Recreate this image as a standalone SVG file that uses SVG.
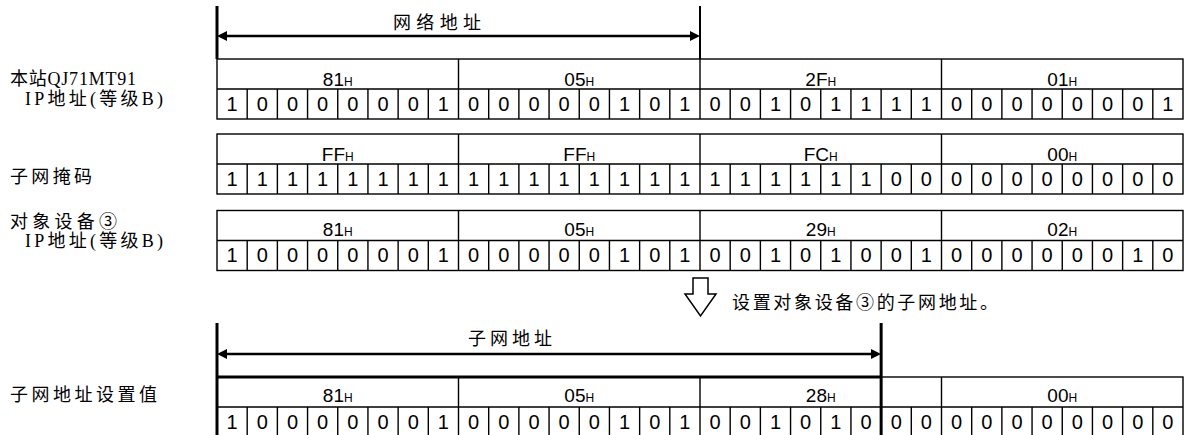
<svg xmlns="http://www.w3.org/2000/svg" xmlns:xlink="http://www.w3.org/1999/xlink" width="1191" height="435" viewBox="0 0 1191 435">
<style>
.lbl{font-family:"Liberation Serif","Noto Sans CJK SC",serif;font-size:18px;fill:#000}
.hex{font-family:"Liberation Sans",Arial,sans-serif;font-size:19px;text-anchor:middle;fill:#000}
.hs{font-size:12px}
.bit{font-family:"Liberation Sans",Arial,sans-serif;font-size:20px;text-anchor:middle;fill:#000}
.gl{fill:none;stroke:#000;stroke-width:1.4}
.thick{stroke:#000;stroke-width:3;fill:none}
.arr{stroke:#000;stroke-width:2.5;fill:none;marker-start:url(#ah);marker-end:url(#ah)}
</style>
<defs>
<marker id="ah" viewBox="0 0 10 10" refX="5" refY="5" markerWidth="10" markerHeight="10" markerUnits="userSpaceOnUse" orient="auto-start-reverse">
<path d="M0,0 L10,5 L0,10 z" fill="#000"/>
</marker>
<g id="grid">
<rect class="gl" x="217" y="0" width="966" height="60"/>
<path class="gl" d="M217,30 H1183 M458.5,0 V60 M700,0 V60 M941.5,0 V60 M247.19,30 V60 M277.38,30 V60 M307.56,30 V60 M337.75,30 V60 M367.94,30 V60 M398.13,30 V60 M428.31,30 V60 M488.69,30 V60 M518.88,30 V60 M549.06,30 V60 M579.25,30 V60 M609.44,30 V60 M639.63,30 V60 M669.81,30 V60 M730.19,30 V60 M760.38,30 V60 M790.56,30 V60 M820.75,30 V60 M850.94,30 V60 M881.13,30 V60 M911.31,30 V60 M971.69,30 V60 M1001.88,30 V60 M1032.06,30 V60 M1062.25,30 V60 M1092.44,30 V60 M1122.63,30 V60 M1152.81,30 V60"/>
</g>
</defs>
<rect width="1191" height="435" fill="#fff"/>

<g id="labels">
<text class="lbl" x="10" y="85" textLength="126">本站QJ71MT91</text>
<text class="lbl" x="25" y="105" textLength="138">IP地址(等级B)</text>
<text class="lbl" x="10" y="183" textLength="82">子网掩码</text>
<text class="lbl" x="10" y="228" textLength="107">对象设备③</text>
<text class="lbl" x="25" y="247" textLength="138">IP地址(等级B)</text>
<text class="lbl" x="10" y="401" textLength="147">子网地址设置值</text>
</g>

<g id="connectors">
<line class="thick" x1="217" y1="6" x2="217" y2="59"/>
<line x1="700" y1="6" x2="700" y2="59" stroke="#000" stroke-width="2"/>
<line class="arr" x1="222" y1="36" x2="695" y2="36"/>
<line class="thick" x1="217" y1="323" x2="217" y2="435"/>
<line class="thick" x1="881.13" y1="323" x2="881.13" y2="435"/>
<line class="arr" x1="222" y1="354" x2="876" y2="354"/>
<polygon points="693,278 708,278 708,294 716,294 700.5,316 685,294 693,294" fill="#fff" stroke="#000" stroke-width="1.5"/>
</g>

<g id="network-label">
<text class="lbl" x="393" y="29" textLength="88">网络地址</text>
</g>
<g id="subnet-label">
<text class="lbl" x="468" y="345" textLength="84">子网地址</text>
</g>
<g id="step-label">
<text class="lbl" x="732" y="309" textLength="266">设置对象设备③的子网地址。</text>
</g>

<g id="row-own-ip">
<use xlink:href="#grid" transform="translate(0,59)"/>
<text class="hex" x="337.75" y="86">81<tspan class="hs">H</tspan></text>
<text class="hex" x="579.25" y="86">05<tspan class="hs">H</tspan></text>
<text class="hex" x="820.75" y="86">2F<tspan class="hs">H</tspan></text>
<text class="hex" x="1062.25" y="86">01<tspan class="hs">H</tspan></text>
<text class="bit" x="232.09" y="111">1</text><text class="bit" x="262.28" y="111">0</text><text class="bit" x="292.47" y="111">0</text><text class="bit" x="322.66" y="111">0</text><text class="bit" x="352.84" y="111">0</text><text class="bit" x="383.03" y="111">0</text><text class="bit" x="413.22" y="111">0</text><text class="bit" x="443.41" y="111">1</text>
<text class="bit" x="473.59" y="111">0</text><text class="bit" x="503.78" y="111">0</text><text class="bit" x="533.97" y="111">0</text><text class="bit" x="564.16" y="111">0</text><text class="bit" x="594.34" y="111">0</text><text class="bit" x="624.53" y="111">1</text><text class="bit" x="654.72" y="111">0</text><text class="bit" x="684.91" y="111">1</text>
<text class="bit" x="715.09" y="111">0</text><text class="bit" x="745.28" y="111">0</text><text class="bit" x="775.47" y="111">1</text><text class="bit" x="805.66" y="111">0</text><text class="bit" x="835.84" y="111">1</text><text class="bit" x="866.03" y="111">1</text><text class="bit" x="896.22" y="111">1</text><text class="bit" x="926.41" y="111">1</text>
<text class="bit" x="956.59" y="111">0</text><text class="bit" x="986.78" y="111">0</text><text class="bit" x="1016.97" y="111">0</text><text class="bit" x="1047.16" y="111">0</text><text class="bit" x="1077.34" y="111">0</text><text class="bit" x="1107.53" y="111">0</text><text class="bit" x="1137.72" y="111">0</text><text class="bit" x="1167.91" y="111">1</text>
</g>

<g id="row-mask">
<use xlink:href="#grid" transform="translate(0,134)"/>
<text class="hex" x="337.75" y="161">FF<tspan class="hs">H</tspan></text>
<text class="hex" x="579.25" y="161">FF<tspan class="hs">H</tspan></text>
<text class="hex" x="820.75" y="161">FC<tspan class="hs">H</tspan></text>
<text class="hex" x="1062.25" y="161">00<tspan class="hs">H</tspan></text>
<text class="bit" x="232.09" y="186">1</text><text class="bit" x="262.28" y="186">1</text><text class="bit" x="292.47" y="186">1</text><text class="bit" x="322.66" y="186">1</text><text class="bit" x="352.84" y="186">1</text><text class="bit" x="383.03" y="186">1</text><text class="bit" x="413.22" y="186">1</text><text class="bit" x="443.41" y="186">1</text>
<text class="bit" x="473.59" y="186">1</text><text class="bit" x="503.78" y="186">1</text><text class="bit" x="533.97" y="186">1</text><text class="bit" x="564.16" y="186">1</text><text class="bit" x="594.34" y="186">1</text><text class="bit" x="624.53" y="186">1</text><text class="bit" x="654.72" y="186">1</text><text class="bit" x="684.91" y="186">1</text>
<text class="bit" x="715.09" y="186">1</text><text class="bit" x="745.28" y="186">1</text><text class="bit" x="775.47" y="186">1</text><text class="bit" x="805.66" y="186">1</text><text class="bit" x="835.84" y="186">1</text><text class="bit" x="866.03" y="186">1</text><text class="bit" x="896.22" y="186">0</text><text class="bit" x="926.41" y="186">0</text>
<text class="bit" x="956.59" y="186">0</text><text class="bit" x="986.78" y="186">0</text><text class="bit" x="1016.97" y="186">0</text><text class="bit" x="1047.16" y="186">0</text><text class="bit" x="1077.34" y="186">0</text><text class="bit" x="1107.53" y="186">0</text><text class="bit" x="1137.72" y="186">0</text><text class="bit" x="1167.91" y="186">0</text>
</g>

<g id="row-target-ip">
<use xlink:href="#grid" transform="translate(0,210.5)"/>
<text class="hex" x="337.75" y="236">81<tspan class="hs">H</tspan></text>
<text class="hex" x="579.25" y="236">05<tspan class="hs">H</tspan></text>
<text class="hex" x="820.75" y="236">29<tspan class="hs">H</tspan></text>
<text class="hex" x="1062.25" y="236">02<tspan class="hs">H</tspan></text>
<text class="bit" x="232.09" y="262">1</text><text class="bit" x="262.28" y="262">0</text><text class="bit" x="292.47" y="262">0</text><text class="bit" x="322.66" y="262">0</text><text class="bit" x="352.84" y="262">0</text><text class="bit" x="383.03" y="262">0</text><text class="bit" x="413.22" y="262">0</text><text class="bit" x="443.41" y="262">1</text>
<text class="bit" x="473.59" y="262">0</text><text class="bit" x="503.78" y="262">0</text><text class="bit" x="533.97" y="262">0</text><text class="bit" x="564.16" y="262">0</text><text class="bit" x="594.34" y="262">0</text><text class="bit" x="624.53" y="262">1</text><text class="bit" x="654.72" y="262">0</text><text class="bit" x="684.91" y="262">1</text>
<text class="bit" x="715.09" y="262">0</text><text class="bit" x="745.28" y="262">0</text><text class="bit" x="775.47" y="262">1</text><text class="bit" x="805.66" y="262">0</text><text class="bit" x="835.84" y="262">1</text><text class="bit" x="866.03" y="262">0</text><text class="bit" x="896.22" y="262">0</text><text class="bit" x="926.41" y="262">1</text>
<text class="bit" x="956.59" y="262">0</text><text class="bit" x="986.78" y="262">0</text><text class="bit" x="1016.97" y="262">0</text><text class="bit" x="1047.16" y="262">0</text><text class="bit" x="1077.34" y="262">0</text><text class="bit" x="1107.53" y="262">0</text><text class="bit" x="1137.72" y="262">1</text><text class="bit" x="1167.91" y="262">0</text>
</g>

<g id="row-subnet-setting">
<use xlink:href="#grid" transform="translate(0,377)"/>
<line class="thick" x1="217" y1="377" x2="881.13" y2="377"/>
<text class="hex" x="337.75" y="402">81<tspan class="hs">H</tspan></text>
<text class="hex" x="579.25" y="402">05<tspan class="hs">H</tspan></text>
<text class="hex" x="820.75" y="402">28<tspan class="hs">H</tspan></text>
<text class="hex" x="1062.25" y="402">00<tspan class="hs">H</tspan></text>
<text class="bit" x="232.09" y="429">1</text><text class="bit" x="262.28" y="429">0</text><text class="bit" x="292.47" y="429">0</text><text class="bit" x="322.66" y="429">0</text><text class="bit" x="352.84" y="429">0</text><text class="bit" x="383.03" y="429">0</text><text class="bit" x="413.22" y="429">0</text><text class="bit" x="443.41" y="429">1</text>
<text class="bit" x="473.59" y="429">0</text><text class="bit" x="503.78" y="429">0</text><text class="bit" x="533.97" y="429">0</text><text class="bit" x="564.16" y="429">0</text><text class="bit" x="594.34" y="429">0</text><text class="bit" x="624.53" y="429">1</text><text class="bit" x="654.72" y="429">0</text><text class="bit" x="684.91" y="429">1</text>
<text class="bit" x="715.09" y="429">0</text><text class="bit" x="745.28" y="429">0</text><text class="bit" x="775.47" y="429">1</text><text class="bit" x="805.66" y="429">0</text><text class="bit" x="835.84" y="429">1</text><text class="bit" x="866.03" y="429">0</text><text class="bit" x="896.22" y="429">0</text><text class="bit" x="926.41" y="429">0</text>
<text class="bit" x="956.59" y="429">0</text><text class="bit" x="986.78" y="429">0</text><text class="bit" x="1016.97" y="429">0</text><text class="bit" x="1047.16" y="429">0</text><text class="bit" x="1077.34" y="429">0</text><text class="bit" x="1107.53" y="429">0</text><text class="bit" x="1137.72" y="429">0</text><text class="bit" x="1167.91" y="429">0</text>
</g>
</svg>
